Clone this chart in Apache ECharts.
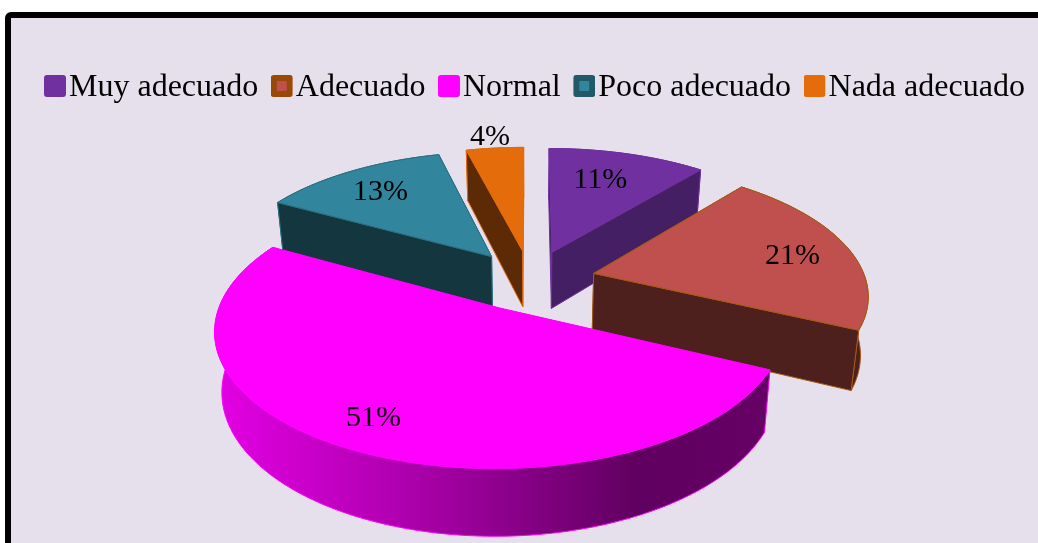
<!DOCTYPE html>
<html><head><meta charset="utf-8">
<style>html,body{margin:0;padding:0;background:#fff}#c{width:1038px;height:543px}</style>
<script src="https://cdn.jsdelivr.net/npm/echarts@6/dist/echarts.min.js"></script>
</head><body><div id="c"></div>
<script>
const categories = ['Muy adecuado','Adecuado','Normal','Poco adecuado','Nada adecuado'];
const values = [11,21,51,13,4];
const topColors = ['#7030a0','#c0504d','#ff00ff','#31859c','#e46c0a'];
const sideColors = ['#451f63','#4d201e','#660066','#14363f','#5c2b05'];
const edgeColors = ['#7030a0','#a65a10','#ff00ff','#2b6f82','#e46c0a'];
const rimColors = ['#7030a0','#984807','#ff00ff','#215968','#e46c0a'];
const paintOrder = [3,4,5,2,1];
const labelRadius = [0.70,0.77,0.82,0.75,1.125];
const labelTurn = [-2.4,2,1.2,-0.9,-0.4];

// projection constants
const CX=530.5, CY=280, R=272, RY=127, K=0.15, EXPLODE=0.24;
const total = values.reduce((a,b)=>a+b,0);
const FONT='"Liberation Serif","Times New Roman",serif';

function proj(u,v){const s=1/(1-K*v);return [CX+R*u*s,CY+RY*v*s];}
function lower(p){return [CX+(p[0]-CX)*0.977,p[1]+56+(p[1]-250)*0.054];}

function sliceShapes(idx){
  let before=0;for(let i=0;i<idx;i++)before+=values[i];
  const a0=before/total*2*Math.PI, a1=(before+values[idx])/total*2*Math.PI, mid=(a0+a1)/2;
  const ox=EXPLODE*Math.sin(mid), oy=-EXPLODE*Math.cos(mid);
  const at=(a,r)=>proj(ox+r*Math.sin(a),oy-r*Math.cos(a));
  const tip=at(0,0);
  const n=Math.max(8,Math.ceil((a1-a0)/0.02));
  const arc=[];for(let i=0;i<=n;i++)arc.push(at(a0+(a1-a0)*i/n,1));
  return {tip,arc,label:at(mid+labelTurn[idx]*Math.PI/180,labelRadius[idx])};
}
function poly(points,fill,stroke,z2){
  return {type:'polygon',z2,shape:{points},style:{fill,stroke,lineWidth:1,lineJoin:'round'}};
}
function renderSlice(idx){
  const {tip,arc,label}=sliceShapes(idx);
  const side=sideColors[idx], edge=edgeColors[idx];
  const lowArc=arc.map(lower), lowTip=lower(tip);
  const first=arc[0], last=arc[arc.length-1];
  const back = first[1]<last[1] ? first : last, front = back===first ? last : first;
  const arcFill = idx===2 ? {type:'linear',x:0,y:0,x2:1,y2:0,colorStops:[
      {offset:0,color:'#e400e4'},{offset:0.33,color:'#b000b0'},{offset:0.55,color:'#880088'},
      {offset:0.76,color:'#600060'},{offset:1,color:'#660066'}]} : side;
  const children=[
    poly(arc.concat(lowArc.slice().reverse()),arcFill,edge,idx===2?3:1),
    poly([tip,back,lower(back),lowTip],side,idx===2?null:edge,2),
    poly([tip,front,lower(front),lowTip],side,idx===2?null:edge,2),
    poly([tip].concat(arc),topColors[idx],edge,4),
    {type:'text',z2:5,style:{text:Math.round(values[idx]/total*100)+'%',x:label[0],y:label[1],
      fill:'#000',font:'30px '+FONT,align:'center',verticalAlign:'middle'}}
  ];
  return {type:'group',children};
}
function iconFor(i){
  const rim=rimColors[i], top=topColors[i];
  const inner = rim!==top ? `<rect x="6" y="6" width="10" height="10" rx="1" fill="${top}"/>` : '';
  const svg=`<svg xmlns="http://www.w3.org/2000/svg" width="22" height="26"><rect width="22" height="22" rx="3" fill="${rim}"/>${inner}</svg>`;
  return 'image://data:image/svg+xml;charset=utf-8,'+encodeURIComponent(svg);
}
const chart=echarts.init(document.getElementById('c'),null,{renderer:'canvas'});
chart.setOption({
  animation:false,
  backgroundColor:'#ffffff',
  graphic:[{type:'rect',z:-10,shape:{x:8,y:15,width:1100,height:600,r:3},
    style:{fill:'#e6e0ec',stroke:'#000',lineWidth:6}}],
  legend:{left:39,top:67,width:1030,itemWidth:22,itemHeight:26,itemGap:12.5,
    textStyle:{fontFamily:FONT,fontSize:32,color:'#000',padding:[0,0,0,-2]},
    data:categories.map((name,i)=>({name,icon:iconFor(i)}))},
  series:categories.map((name,i)=>({
    type:'custom',name,coordinateSystem:'none',z:paintOrder[i]+1,
    itemStyle:{color:topColors[i]},silent:true,
    data:[[values[i]]],
    renderItem:()=>renderSlice(i)
  }))
});
</script></body></html>
